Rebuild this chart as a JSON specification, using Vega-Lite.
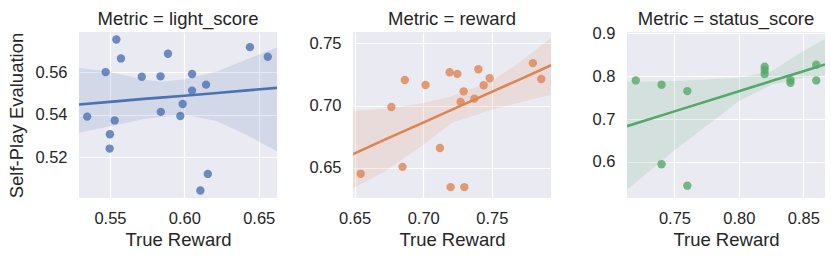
{
  "$schema": "https://vega.github.io/schema/vega-lite/v6.json",
  "padding": {"left": 7, "top": 9, "right": 5, "bottom": 5},
  "spacing": 76,
  "bounds": "flush",
  "datasets": {
    "pts": [
      {"Metric": "light_score", "TrueReward": 0.5347, "SelfPlay": 0.5391},
      {"Metric": "light_score", "TrueReward": 0.5471, "SelfPlay": 0.5600},
      {"Metric": "light_score", "TrueReward": 0.5543, "SelfPlay": 0.5753},
      {"Metric": "light_score", "TrueReward": 0.5574, "SelfPlay": 0.5664},
      {"Metric": "light_score", "TrueReward": 0.5532, "SelfPlay": 0.5373},
      {"Metric": "light_score", "TrueReward": 0.5500, "SelfPlay": 0.5308},
      {"Metric": "light_score", "TrueReward": 0.5498, "SelfPlay": 0.5241},
      {"Metric": "light_score", "TrueReward": 0.5714, "SelfPlay": 0.5578},
      {"Metric": "light_score", "TrueReward": 0.5840, "SelfPlay": 0.5580},
      {"Metric": "light_score", "TrueReward": 0.5890, "SelfPlay": 0.5686},
      {"Metric": "light_score", "TrueReward": 0.5842, "SelfPlay": 0.5413},
      {"Metric": "light_score", "TrueReward": 0.5973, "SelfPlay": 0.5394},
      {"Metric": "light_score", "TrueReward": 0.5989, "SelfPlay": 0.5450},
      {"Metric": "light_score", "TrueReward": 0.6052, "SelfPlay": 0.5591},
      {"Metric": "light_score", "TrueReward": 0.6052, "SelfPlay": 0.5513},
      {"Metric": "light_score", "TrueReward": 0.6146, "SelfPlay": 0.5541},
      {"Metric": "light_score", "TrueReward": 0.6158, "SelfPlay": 0.5122},
      {"Metric": "light_score", "TrueReward": 0.6108, "SelfPlay": 0.5044},
      {"Metric": "light_score", "TrueReward": 0.6441, "SelfPlay": 0.5717},
      {"Metric": "light_score", "TrueReward": 0.6561, "SelfPlay": 0.5672},
      {"Metric": "reward", "TrueReward": 0.6544, "SelfPlay": 0.6453},
      {"Metric": "reward", "TrueReward": 0.6768, "SelfPlay": 0.6989},
      {"Metric": "reward", "TrueReward": 0.6866, "SelfPlay": 0.7206},
      {"Metric": "reward", "TrueReward": 0.6849, "SelfPlay": 0.6509},
      {"Metric": "reward", "TrueReward": 0.7017, "SelfPlay": 0.7166},
      {"Metric": "reward", "TrueReward": 0.7122, "SelfPlay": 0.6660},
      {"Metric": "reward", "TrueReward": 0.7193, "SelfPlay": 0.7268},
      {"Metric": "reward", "TrueReward": 0.7249, "SelfPlay": 0.7255},
      {"Metric": "reward", "TrueReward": 0.7200, "SelfPlay": 0.6346},
      {"Metric": "reward", "TrueReward": 0.7300, "SelfPlay": 0.6346},
      {"Metric": "reward", "TrueReward": 0.7273, "SelfPlay": 0.7029},
      {"Metric": "reward", "TrueReward": 0.7295, "SelfPlay": 0.7115},
      {"Metric": "reward", "TrueReward": 0.7373, "SelfPlay": 0.7056},
      {"Metric": "reward", "TrueReward": 0.7402, "SelfPlay": 0.7292},
      {"Metric": "reward", "TrueReward": 0.7441, "SelfPlay": 0.7164},
      {"Metric": "reward", "TrueReward": 0.7485, "SelfPlay": 0.7220},
      {"Metric": "reward", "TrueReward": 0.7800, "SelfPlay": 0.7341},
      {"Metric": "reward", "TrueReward": 0.7861, "SelfPlay": 0.7214},
      {"Metric": "status_score", "TrueReward": 0.72, "SelfPlay": 0.7899},
      {"Metric": "status_score", "TrueReward": 0.74, "SelfPlay": 0.7798},
      {"Metric": "status_score", "TrueReward": 0.76, "SelfPlay": 0.7650},
      {"Metric": "status_score", "TrueReward": 0.74, "SelfPlay": 0.5946},
      {"Metric": "status_score", "TrueReward": 0.76, "SelfPlay": 0.5447},
      {"Metric": "status_score", "TrueReward": 0.82, "SelfPlay": 0.8218},
      {"Metric": "status_score", "TrueReward": 0.82, "SelfPlay": 0.8140},
      {"Metric": "status_score", "TrueReward": 0.82, "SelfPlay": 0.8047},
      {"Metric": "status_score", "TrueReward": 0.84, "SelfPlay": 0.7907},
      {"Metric": "status_score", "TrueReward": 0.84, "SelfPlay": 0.7844},
      {"Metric": "status_score", "TrueReward": 0.86, "SelfPlay": 0.8265},
      {"Metric": "status_score", "TrueReward": 0.86, "SelfPlay": 0.7899}
    ],
    "band": [
      {"Metric": "light_score", "TrueReward": 0.5292, "lo": 0.5315, "hi": 0.5620, "fit": 0.5448},
      {"Metric": "light_score", "TrueReward": 0.5500, "lo": 0.5346, "hi": 0.5600, "fit": 0.5460},
      {"Metric": "light_score", "TrueReward": 0.5728, "lo": 0.5380, "hi": 0.5565, "fit": 0.5474},
      {"Metric": "light_score", "TrueReward": 0.5840, "lo": 0.5388, "hi": 0.5555, "fit": 0.5480},
      {"Metric": "light_score", "TrueReward": 0.6000, "lo": 0.5400, "hi": 0.5565, "fit": 0.5489},
      {"Metric": "light_score", "TrueReward": 0.6220, "lo": 0.5369, "hi": 0.5604, "fit": 0.5502},
      {"Metric": "light_score", "TrueReward": 0.6422, "lo": 0.5303, "hi": 0.5660, "fit": 0.5514},
      {"Metric": "light_score", "TrueReward": 0.6623, "lo": 0.5228, "hi": 0.5715, "fit": 0.5526},
      {"Metric": "reward", "TrueReward": 0.6488, "lo": 0.6338, "hi": 0.6960, "fit": 0.6611},
      {"Metric": "reward", "TrueReward": 0.6720, "lo": 0.6472, "hi": 0.6973, "fit": 0.6727},
      {"Metric": "reward", "TrueReward": 0.7000, "lo": 0.6686, "hi": 0.7021, "fit": 0.6864},
      {"Metric": "reward", "TrueReward": 0.7207, "lo": 0.6861, "hi": 0.7075, "fit": 0.6966},
      {"Metric": "reward", "TrueReward": 0.7500, "lo": 0.6968, "hi": 0.7196, "fit": 0.7111},
      {"Metric": "reward", "TrueReward": 0.7714, "lo": 0.7029, "hi": 0.7357, "fit": 0.7215},
      {"Metric": "reward", "TrueReward": 0.7932, "lo": 0.7088, "hi": 0.7544, "fit": 0.7324},
      {"Metric": "status_score", "TrueReward": 0.7132, "lo": 0.5354, "hi": 0.7868, "fit": 0.6833},
      {"Metric": "status_score", "TrueReward": 0.7500, "lo": 0.6272, "hi": 0.7883, "fit": 0.7178},
      {"Metric": "status_score", "TrueReward": 0.8000, "lo": 0.7416, "hi": 0.7961, "fit": 0.7646},
      {"Metric": "status_score", "TrueReward": 0.8259, "lo": 0.7805, "hi": 0.8117, "fit": 0.7889},
      {"Metric": "status_score", "TrueReward": 0.8500, "lo": 0.7961, "hi": 0.8584, "fit": 0.8114},
      {"Metric": "status_score", "TrueReward": 0.8668, "lo": 0.8000, "hi": 0.8872, "fit": 0.8272}
    ]
  },
  "hconcat": [
    {
      "width": 198, "height": 166,
      "title": {"text": "Metric = light_score", "offset": 4},
      "layer": [
        {
          "data": {"name": "band"},
          "transform": [{"filter": "datum.Metric == 'light_score'"}],
          "mark": {"type": "area", "color": "#4C72B0", "opacity": 0.15, "clip": true},
          "encoding": {
            "x": {"field": "TrueReward", "type": "quantitative", "scale": {"domain": [0.5292, 0.6623], "nice": false, "zero": false}, "axis": {"title": "True Reward", "values": [0.55, 0.60, 0.65], "format": ".2f"}},
            "y": {"field": "lo", "type": "quantitative", "scale": {"domain": [0.5009, 0.5788], "nice": false, "zero": false}, "axis": {"title": "Self-Play Evaluation", "values": [0.52, 0.54, 0.56], "format": ".2f"}},
            "y2": {"field": "hi"}
          }
        },
        {
          "data": {"name": "band"},
          "transform": [{"filter": "datum.Metric == 'light_score'"}],
          "mark": {"type": "line", "color": "#4C72B0", "strokeWidth": 2.6, "clip": true},
          "encoding": {
            "x": {"field": "TrueReward", "type": "quantitative", "scale": {"domain": [0.5292, 0.6623], "nice": false, "zero": false}, "axis": {"title": "True Reward", "values": [0.55, 0.60, 0.65], "format": ".2f"}},
            "y": {"field": "fit", "type": "quantitative", "scale": {"domain": [0.5009, 0.5788], "nice": false, "zero": false}, "axis": {"title": "Self-Play Evaluation", "values": [0.52, 0.54, 0.56], "format": ".2f"}}
          }
        },
        {
          "data": {"name": "pts"},
          "transform": [{"filter": "datum.Metric == 'light_score'"}],
          "mark": {"type": "circle", "color": "#4C72B0", "opacity": 0.8, "size": 70},
          "encoding": {
            "x": {"field": "TrueReward", "type": "quantitative", "scale": {"domain": [0.5292, 0.6623], "nice": false, "zero": false}, "axis": {"title": "True Reward", "values": [0.55, 0.60, 0.65], "format": ".2f"}},
            "y": {"field": "SelfPlay", "type": "quantitative", "scale": {"domain": [0.5009, 0.5788], "nice": false, "zero": false}, "axis": {"title": "Self-Play Evaluation", "values": [0.52, 0.54, 0.56], "format": ".2f"}}
          }
        }
      ]
    },
    {
      "width": 198, "height": 166,
      "title": {"text": "Metric = reward", "offset": 4},
      "layer": [
        {
          "data": {"name": "band"},
          "transform": [{"filter": "datum.Metric == 'reward'"}],
          "mark": {"type": "area", "color": "#DD8452", "opacity": 0.15, "clip": true},
          "encoding": {
            "x": {"field": "TrueReward", "type": "quantitative", "scale": {"domain": [0.6488, 0.7932], "nice": false, "zero": false}, "axis": {"title": "True Reward", "values": [0.65, 0.70, 0.75], "format": ".2f"}},
            "y": {"field": "lo", "type": "quantitative", "scale": {"domain": [0.6259, 0.7591], "nice": false, "zero": false}, "axis": {"title": null, "values": [0.65, 0.70, 0.75], "format": ".2f"}},
            "y2": {"field": "hi"}
          }
        },
        {
          "data": {"name": "band"},
          "transform": [{"filter": "datum.Metric == 'reward'"}],
          "mark": {"type": "line", "color": "#DD8452", "strokeWidth": 2.6, "clip": true},
          "encoding": {
            "x": {"field": "TrueReward", "type": "quantitative", "scale": {"domain": [0.6488, 0.7932], "nice": false, "zero": false}, "axis": {"title": "True Reward", "values": [0.65, 0.70, 0.75], "format": ".2f"}},
            "y": {"field": "fit", "type": "quantitative", "scale": {"domain": [0.6259, 0.7591], "nice": false, "zero": false}, "axis": {"title": null, "values": [0.65, 0.70, 0.75], "format": ".2f"}}
          }
        },
        {
          "data": {"name": "pts"},
          "transform": [{"filter": "datum.Metric == 'reward'"}],
          "mark": {"type": "circle", "color": "#DD8452", "opacity": 0.8, "size": 70},
          "encoding": {
            "x": {"field": "TrueReward", "type": "quantitative", "scale": {"domain": [0.6488, 0.7932], "nice": false, "zero": false}, "axis": {"title": "True Reward", "values": [0.65, 0.70, 0.75], "format": ".2f"}},
            "y": {"field": "SelfPlay", "type": "quantitative", "scale": {"domain": [0.6259, 0.7591], "nice": false, "zero": false}, "axis": {"title": null, "values": [0.65, 0.70, 0.75], "format": ".2f"}}
          }
        }
      ]
    },
    {
      "width": 198, "height": 166,
      "title": {"text": "Metric = status_score", "offset": -3.5},
      "layer": [
        {
          "data": {"name": "band"},
          "transform": [{"filter": "datum.Metric == 'status_score'"}],
          "mark": {"type": "area", "color": "#55A868", "opacity": 0.15, "clip": true},
          "encoding": {
            "x": {"field": "TrueReward", "type": "quantitative", "scale": {"domain": [0.7132, 0.8668], "nice": false, "zero": false}, "axis": {"title": "True Reward", "values": [0.75, 0.80, 0.85], "format": ".2f"}},
            "y": {"field": "lo", "type": "quantitative", "scale": {"domain": [0.516, 0.9027], "nice": false, "zero": false}, "axis": {"title": null, "values": [0.6, 0.7, 0.8, 0.9], "format": ".1f"}},
            "y2": {"field": "hi"}
          }
        },
        {
          "data": {"name": "band"},
          "transform": [{"filter": "datum.Metric == 'status_score'"}],
          "mark": {"type": "line", "color": "#55A868", "strokeWidth": 2.6, "clip": true},
          "encoding": {
            "x": {"field": "TrueReward", "type": "quantitative", "scale": {"domain": [0.7132, 0.8668], "nice": false, "zero": false}, "axis": {"title": "True Reward", "values": [0.75, 0.80, 0.85], "format": ".2f"}},
            "y": {"field": "fit", "type": "quantitative", "scale": {"domain": [0.516, 0.9027], "nice": false, "zero": false}, "axis": {"title": null, "values": [0.6, 0.7, 0.8, 0.9], "format": ".1f"}}
          }
        },
        {
          "data": {"name": "pts"},
          "transform": [{"filter": "datum.Metric == 'status_score'"}],
          "mark": {"type": "circle", "color": "#55A868", "opacity": 0.8, "size": 70},
          "encoding": {
            "x": {"field": "TrueReward", "type": "quantitative", "scale": {"domain": [0.7132, 0.8668], "nice": false, "zero": false}, "axis": {"title": "True Reward", "values": [0.75, 0.80, 0.85], "format": ".2f"}},
            "y": {"field": "SelfPlay", "type": "quantitative", "scale": {"domain": [0.516, 0.9027], "nice": false, "zero": false}, "axis": {"title": null, "values": [0.6, 0.7, 0.8, 0.9], "format": ".1f"}}
          }
        }
      ]
    }
  ],
  "config": {
    "background": "white",
    "font": "Liberation Sans",
    "view": {"fill": "#EAEAF2", "stroke": null},
    "axis": {
      "domain": false, "ticks": false,
      "gridColor": "white", "gridWidth": 1.2, "gridOpacity": 1,
      "labelFontSize": 16.5, "titleFontSize": 18.5,
      "labelColor": "#262626", "titleColor": "#262626",
      "titleFontWeight": "normal", "labelFlush": false, "labelOverlap": false
    },
    "axisX": {"labelPadding": 12, "titlePadding": 4},
    "axisY": {"labelPadding": 12, "titlePadding": 8},
    "title": {"fontSize": 18.5, "fontWeight": "normal", "color": "#262626", "anchor": "middle"}
  }
}
